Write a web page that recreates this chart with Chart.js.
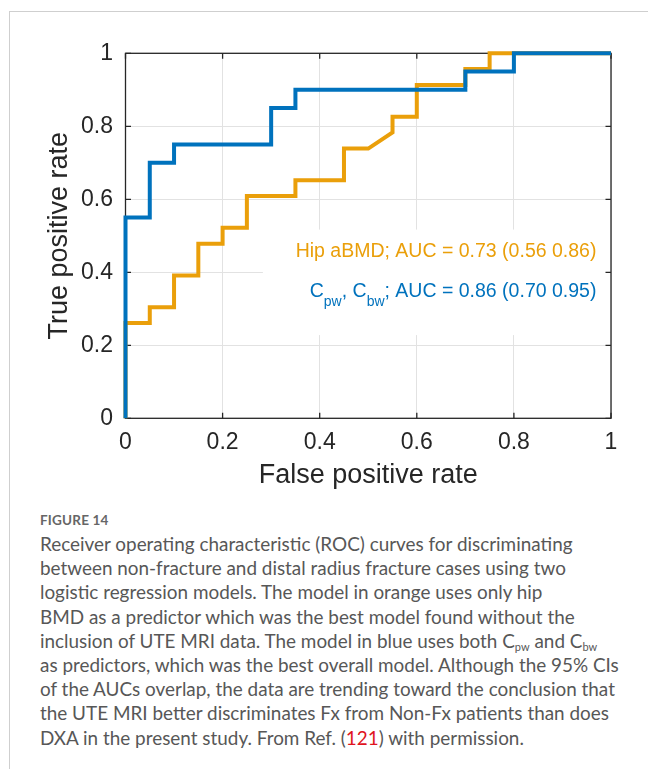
<!DOCTYPE html>
<html>
<head>
<meta charset="utf-8">
<script src="https://cdn.jsdelivr.net/npm/chart.js@4/dist/chart.umd.min.js"></script>
<style>
  html, body { margin: 0; padding: 0; background: #fff; }
  body { width: 648px; height: 769px; position: relative; overflow: hidden; }
  #frame { position: absolute; left: 9px; top: 11px; right: 0; bottom: 0;
           border-top: 1px solid #cfcfcf; border-left: 1px solid #cfcfcf; }
  #plot { position: absolute; left: 0; top: 0; }
  #caption { position: absolute; left: 40px; top: 508px; color: #575757;
             font-family: Lato, "Open Sans", sans-serif; }
  #caption .head { font-weight: 700; font-size: 13.5px; color: #666; height: 24px; line-height: 24px; letter-spacing: 0.2px; }
  #caption .ln { font-size: 18.9px; line-height: 24.2px; height: 24.2px; white-space: nowrap; }
  #caption sub { font-size: 11px; vertical-align: -3px; line-height: 0; }
  #caption .ref { color: #e0141e; }
</style>
</head>
<body>
<div id="frame"></div>
<canvas id="plot" width="648" height="500"></canvas>
<div id="caption">
  <div class="head">FIGURE 14</div>
  <div class="ln">Receiver operating characteristic (ROC) curves for discriminating</div>
  <div class="ln">between non-fracture and distal radius fracture cases using two</div>
  <div class="ln">logistic regression models. The model in orange uses only hip</div>
  <div class="ln">BMD as a predictor which was the best model found without the</div>
  <div class="ln">inclusion of UTE MRI data. The model in blue uses both C<sub>pw</sub> and C<sub>bw</sub></div>
  <div class="ln">as predictors, which was the best overall model. Although the 95% CIs</div>
  <div class="ln">of the AUCs overlap, the data are trending toward the conclusion that</div>
  <div class="ln">the UTE MRI better discriminates Fx from Non-Fx patients than does</div>
  <div class="ln">DXA in the present study. From Ref. (<span class="ref">121</span>) with permission.</div>
</div>
<script>
// ROC curve vertices (false positive rate, true positive rate)
const hipFpr = [0, 0, 0.05, 0.05, 0.10, 0.10, 0.15, 0.15, 0.20, 0.20, 0.25, 0.25, 0.35, 0.35,
                0.45, 0.45, 0.50, 0.55, 0.55, 0.60, 0.60, 0.70, 0.70, 0.75, 0.75, 1];
const hipTpr = [0, 0.261, 0.261, 0.304, 0.304, 0.391, 0.391, 0.478, 0.478, 0.522, 0.522, 0.609, 0.609, 0.652,
                0.652, 0.739, 0.739, 0.783, 0.826, 0.826, 0.913, 0.913, 0.957, 0.957, 1, 1];

const uteFpr = [0, 0, 0.05, 0.05, 0.10, 0.10, 0.30, 0.30, 0.35, 0.35, 0.70, 0.70, 0.80, 0.80, 1];
const uteTpr = [0, 0.55, 0.55, 0.70, 0.70, 0.75, 0.75, 0.85, 0.85, 0.90, 0.90, 0.95, 0.95, 1, 1];

// AUC with 95% confidence interval: [auc, low, high]
const hipAuc = ['0.73', '0.56', '0.86'];
const uteAuc = ['0.86', '0.70', '0.95'];

// axis ticks
const tickValues = [0, 0.2, 0.4, 0.6, 0.8, 1];
const tickLabels = ['0', '0.2', '0.4', '0.6', '0.8', '1'];

const BLUE = '#0072BD';
const ORANGE = '#EA9F0A';
const AXIS = '#262626';
const FONT = '"Liberation Sans", Arial, Helvetica, sans-serif';

const toPoints = (xs, ys) => xs.map((x, i) => ({ x: x, y: ys[i] }));

function setTicks(scale) {
  scale.ticks = tickValues.map(v => ({ value: v }));
}

// white panel behind the annotation, then the boxed axes with inward ticks
const axesBox = {
  id: 'axesBox',
  beforeDatasetsDraw(chart) {
    const { ctx, chartArea: a, scales: { x, y } } = chart;
    ctx.save();
    ctx.fillStyle = '#ffffff';
    const bx0 = x.getPixelForValue(0.283), bx1 = x.getPixelForValue(0.992);
    const by0 = y.getPixelForValue(0.517), by1 = y.getPixelForValue(0.228);
    ctx.fillRect(bx0, by0, bx1 - bx0, by1 - by0);

    ctx.strokeStyle = AXIS;
    ctx.lineWidth = 1.3;
    ctx.strokeRect(a.left, a.top, a.right - a.left, a.bottom - a.top);
    const tl = 5.5;
    ctx.beginPath();
    tickValues.forEach(v => {
      const px = x.getPixelForValue(v);
      ctx.moveTo(px, a.bottom); ctx.lineTo(px, a.bottom - tl);
      ctx.moveTo(px, a.top); ctx.lineTo(px, a.top + tl);
      const py = y.getPixelForValue(v);
      ctx.moveTo(a.left, py); ctx.lineTo(a.left + tl, py);
      ctx.moveTo(a.right, py); ctx.lineTo(a.right - tl, py);
    });
    ctx.stroke();
    ctx.restore();
  }
};

// curve annotation with AUC values
const aucText = {
  id: 'aucText',
  afterDatasetsDraw(chart) {
    const { ctx, scales: { x, y } } = chart;
    const right = x.getPixelForValue(0.97);
    const big = '19.5px ' + FONT, small = '14px ' + FONT;
    ctx.save();
    ctx.textBaseline = 'alphabetic';

    ctx.font = big;
    ctx.fillStyle = ORANGE;
    ctx.textAlign = 'right';
    ctx.fillText('Hip aBMD; AUC = ' + hipAuc[0] + ' (' + hipAuc[1] + ' ' + hipAuc[2] + ')',
                 right, y.getPixelForValue(0.443));

    const base = y.getPixelForValue(0.331);
    const parts = [
      ['C', big, 0], ['pw', small, 8.5], [', C', big, 0], ['bw', small, 8.5],
      ['; AUC = ' + uteAuc[0] + ' (' + uteAuc[1] + ' ' + uteAuc[2] + ')', big, 0]
    ];
    let total = 0;
    parts.forEach(p => { ctx.font = p[1]; total += ctx.measureText(p[0]).width; });
    let cx = right - total;
    ctx.textAlign = 'left';
    ctx.fillStyle = BLUE;
    parts.forEach(p => {
      ctx.font = p[1];
      ctx.fillText(p[0], cx, base + p[2]);
      cx += ctx.measureText(p[0]).width;
    });
    ctx.restore();
  }
};

new Chart(document.getElementById('plot'), {
  type: 'scatter',
  data: {
    datasets: [
      {
        label: 'Cpw, Cbw',
        data: toPoints(uteFpr, uteTpr),
        showLine: true, borderColor: BLUE, backgroundColor: BLUE,
        borderWidth: 4, pointRadius: 0, tension: 0,
        borderJoinStyle: 'miter', borderCapStyle: 'butt', clip: false
      },
      {
        label: 'Hip aBMD',
        data: toPoints(hipFpr, hipTpr),
        showLine: true, borderColor: ORANGE, backgroundColor: ORANGE,
        borderWidth: 4, pointRadius: 0, tension: 0,
        borderJoinStyle: 'miter', borderCapStyle: 'butt', clip: false
      }
    ]
  },
  options: {
    responsive: false,
    animation: false,
    events: [],
    layout: { padding: { left: 0, right: 37, top: 53.3, bottom: 0 } },
    plugins: { legend: { display: false }, tooltip: { enabled: false } },
    scales: {
      x: {
        type: 'linear', min: 0, max: 1,
        afterBuildTicks: setTicks,
        afterFit: s => { s.height = 81.7; },
        ticks: {
          autoSkip: false, maxRotation: 0, padding: 11, color: AXIS,
          font: { family: FONT, size: 23 },
          callback: (v, i) => tickLabels[i]
        },
        grid: { color: '#e2e2e2', lineWidth: 1, drawTicks: false },
        border: { display: false },
        title: {
          display: true, text: 'False positive rate', color: AXIS,
          font: { family: FONT, size: 27 }, padding: { top: 0, bottom: 7.8 }
        }
      },
      y: {
        type: 'linear', min: 0, max: 1,
        afterBuildTicks: setTicks,
        afterFit: s => { s.width = 125.5; },
        ticks: {
          autoSkip: false, padding: 12.5, color: AXIS,
          font: { family: FONT, size: 23 },
          callback: (v, i) => tickLabels[i]
        },
        grid: { color: '#e2e2e2', lineWidth: 1, drawTicks: false },
        border: { display: false },
        title: {
          display: true, text: 'True positive rate', color: AXIS,
          font: { family: FONT, size: 27 }, padding: { top: 43.8, bottom: 0 }
        }
      }
    }
  },
  plugins: [axesBox, aucText]
});
</script>
</body>
</html>
